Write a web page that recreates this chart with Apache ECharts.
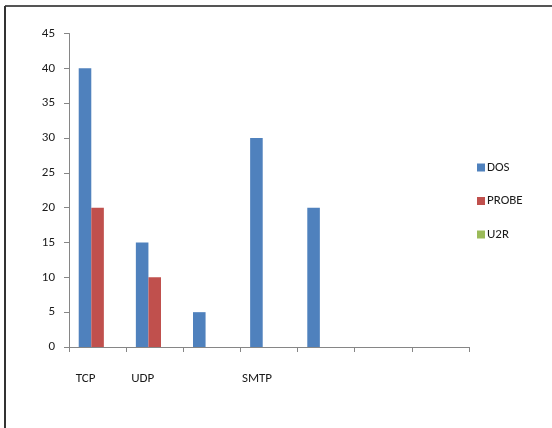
<!DOCTYPE html>
<html><head><meta charset="utf-8">
<script src="https://cdn.jsdelivr.net/npm/echarts@6/dist/echarts.min.js"></script>
<style>html,body{margin:0;padding:0;background:#fff}#c{width:552px;height:428px}</style>
</head><body><div id="c"></div>
<script>
const categories = ['TCP', 'UDP', '', 'SMTP', '', '', ''];
const seriesNames = ['DOS', 'PROBE', 'U2R'];
const dosValues = [40, 15, 5, 30, 20, 0, 0];
const probeValues = [20, 10, 0, 0, 0, 0, 0];
const u2rValues = [0, 0, 0, 0, 0, 0, 0];
const yTicks = {min: 0, max: 45, interval: 5};
const colors = ['#4F81BD', '#C0504D', '#9BBB59'];
const font = "Carlito, 'Liberation Sans Narrow', 'Liberation Sans', sans-serif";

const chart = echarts.init(document.getElementById('c'), null, {renderer: 'canvas'});
chart.setOption({
  animation: false,
  textStyle: {fontFamily: font},
  graphic: [
    {type: 'line', shape: {x1: 5, y1: 6, x2: 552, y2: 6}, style: {stroke: '#555', lineWidth: 2}},
    {type: 'line', shape: {x1: 5, y1: 6, x2: 5, y2: 428}, style: {stroke: '#333', lineWidth: 2}}
  ],
  grid: {left: 69, right: 83, top: 33.5, bottom: 81},
  legend: {
    orient: 'vertical', left: 472, top: 156, itemWidth: 8, itemHeight: 8, itemGap: 20.5,
    icon: 'rect',
    textStyle: {fontFamily: font, fontSize: 13, color: '#1a1a1a', padding: [0, 0, 0, -3]},
    data: seriesNames
  },
  xAxis: {
    type: 'category', data: categories,
    axisLine: {lineStyle: {color: '#868686'}},
    axisTick: {show: true, length: 5, alignWithLabel: false, lineStyle: {color: '#868686'}},
    axisLabel: {interval: 0, margin: 25, fontSize: 13, color: '#1a1a1a', fontFamily: font, padding: [0, 24, 0, 0]}
  },
  yAxis: {
    type: 'value', min: yTicks.min, max: yTicks.max, interval: yTicks.interval,
    splitLine: {show: false},
    axisLine: {show: true, lineStyle: {color: '#868686'}},
    axisTick: {show: true, length: 5, lineStyle: {color: '#868686'}},
    axisLabel: {margin: 14, fontSize: 13, color: '#1a1a1a', fontFamily: font}
  },
  series: [
    {name: seriesNames[0], type: 'bar', data: dosValues, itemStyle: {color: colors[0]}, barGap: '0%', barCategoryGap: '34%'},
    {name: seriesNames[1], type: 'bar', data: probeValues, itemStyle: {color: colors[1]}, barGap: '0%', barCategoryGap: '34%'},
    {name: seriesNames[2], type: 'bar', data: u2rValues, itemStyle: {color: colors[2]}, barGap: '0%', barCategoryGap: '34%'}
  ]
});
</script></body></html>
